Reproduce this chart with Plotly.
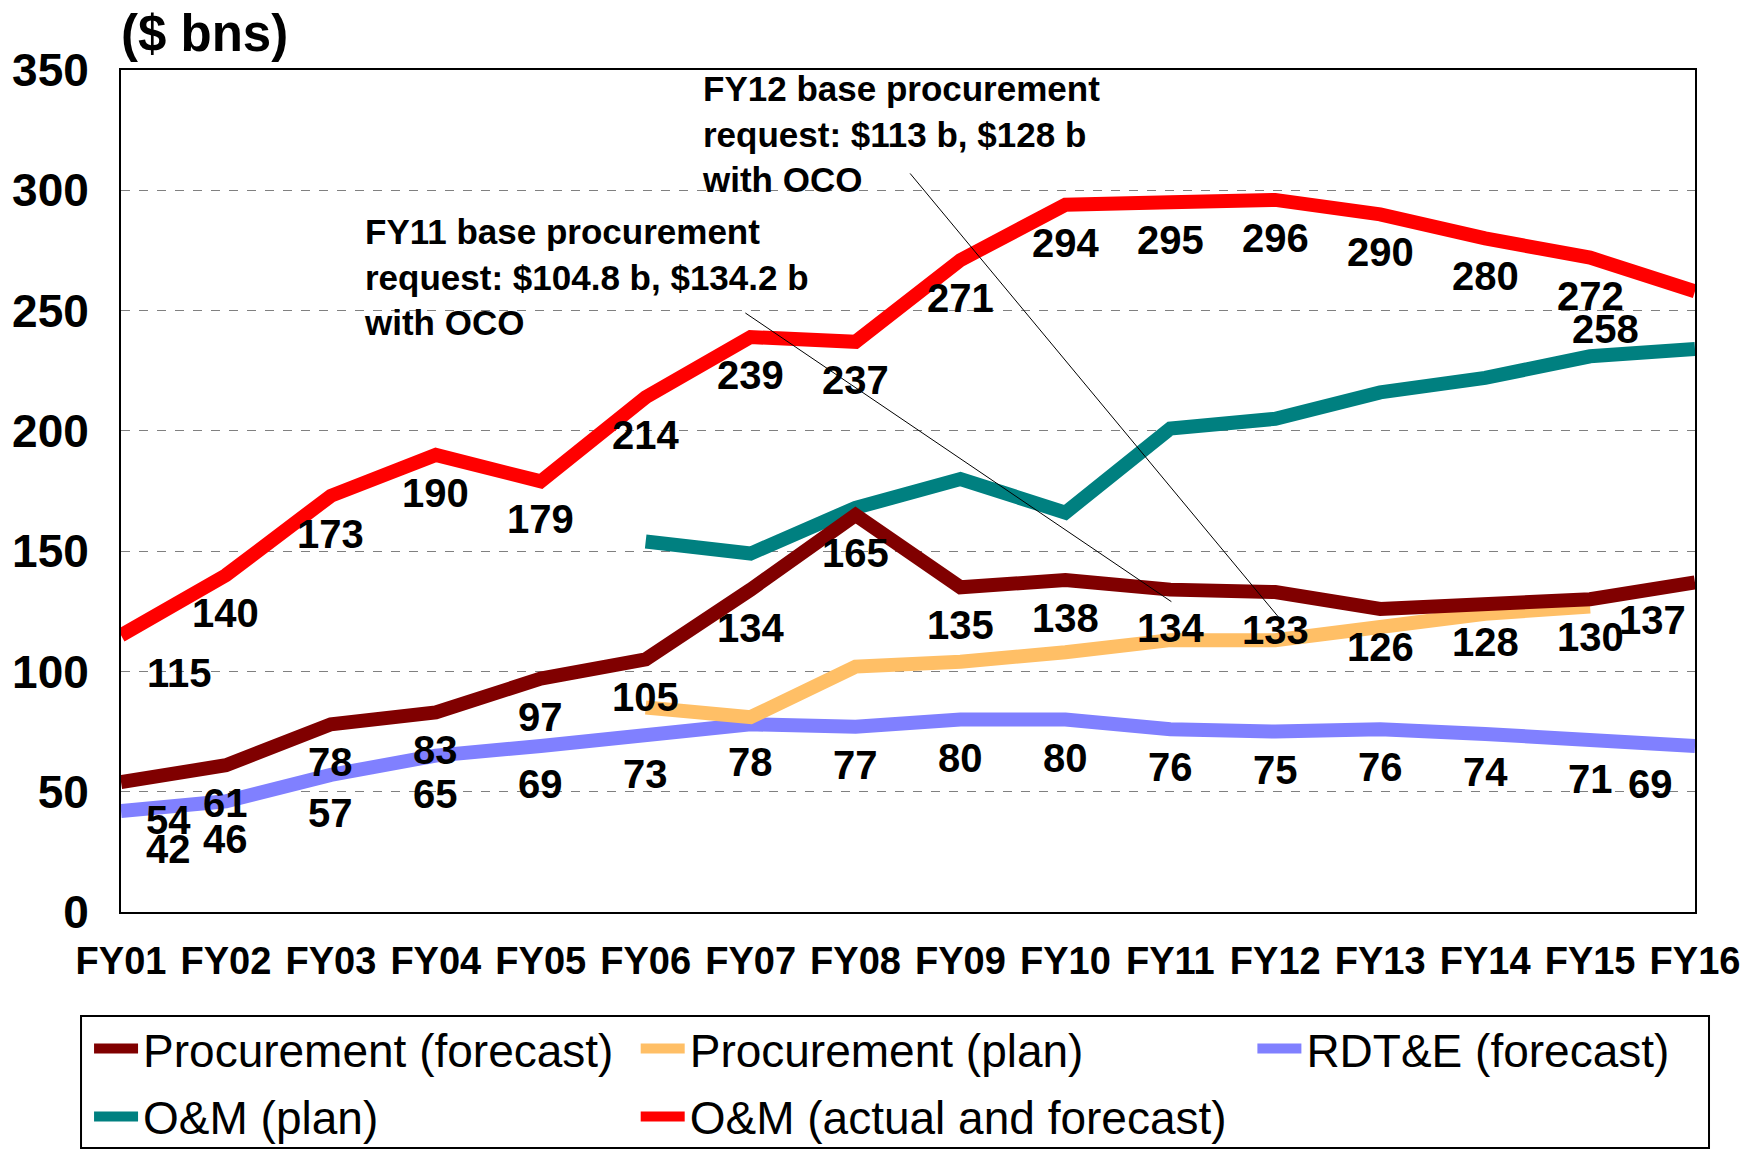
import plotly.graph_objects as go

# ── Data ($ bns) ─────────────────────────────────────────────────────────
years = ["FY01", "FY02", "FY03", "FY04", "FY05", "FY06", "FY07", "FY08",
         "FY09", "FY10", "FY11", "FY12", "FY13", "FY14", "FY15", "FY16"]

proc_forecast = [54, 61, 78, 83, 97, 105, 134, 165, 135, 138, 134, 133, 126, 128, 130, 137]
proc_plan     = [None, None, None, None, None, 85, 81, 102, 104, 108, 113, 113, 119, 124, 127, None]
rdte_forecast = [42, 46, 57, 65, 69, 73, 78, 77, 80, 80, 76, 75, 76, 74, 71, 69]
om_plan       = [None, None, None, None, None, 154, 149, 168, 180, 166, 201, 205, 216, 222, 231, 234]
om_actual     = [115, 140, 173, 190, 179, 214, 239, 237, 271, 294, 295, 296, 290, 280, 272, 258]

fy11_note = "FY11 base procurement<br>request: $104.8 b, $134.2 b<br>with OCO"
fy12_note = "FY12 base procurement<br>request: $113 b, $128 b<br>with OCO"

# ── Style ────────────────────────────────────────────────────────────────
FONT = "Liberation Sans, Arial, sans-serif"
C_PROC_F = "#800000"
C_PROC_P = "#FFBF66"
C_RDTE   = "#8080FF"
C_OM_P   = "#008080"
C_OM_A   = "#FF0000"
LW = 14

x = list(range(len(years)))

fig = go.Figure()

# (values, name, colour, legend, rank) — drawing order = list order
series = [
    (om_plan,       "O&amp;M (plan)",              C_OM_P,   "legend",  2),
    (rdte_forecast, "RDT&amp;E (forecast)",        C_RDTE,   "legend3", 1),
    (proc_plan,     "Procurement (plan)",          C_PROC_P, "legend2", 1),
    (proc_forecast, "Procurement (forecast)",      C_PROC_F, "legend",  1),
    (om_actual,     "O&amp;M (actual and forecast)", C_OM_A, "legend2", 2),
]
for vals, name, col, leg, rank in series:
    fig.add_trace(go.Scatter(
        x=x, y=vals, name=name, mode="lines",
        line=dict(color=col, width=LW),
        legend=leg, legendrank=rank, legendgroup=name, cliponaxis=False,
    ))

# ── Data labels (below each point; edge points nudged inward) ─────────────
label_series = [
    (om_actual,     {0: 58, 15: -90}),
    (proc_forecast, {0: 47, 15: -43}),
    (rdte_forecast, {0: 47, 15: -45}),
]
for vals, nudges in label_series:
    for i, v in enumerate(vals):
        fig.add_annotation(
            x=i, y=v, text=str(v), showarrow=False,
            yshift=-38, xshift=nudges.get(i, 0),
            font=dict(family=FONT, size=40, color="black", weight="bold"),
        )

# ── Call-outs ─────────────────────────────────────────────────────────────
fig.add_annotation(x=2.30, y=264, text=fy11_note, showarrow=False,
                   xanchor="left", yanchor="middle", align="left",
                   font=dict(family=FONT, size=35, color="black", weight="bold"))
fig.add_annotation(x=5.52, y=323.6, text=fy12_note, showarrow=False,
                   xanchor="left", yanchor="middle", align="left",
                   font=dict(family=FONT, size=35, color="black", weight="bold"))
for x0, y0, x1, y1 in [(5.95, 249, 10.01, 129), (7.52, 307, 11.08, 120)]:
    fig.add_shape(type="line", xref="x", yref="y", x0=x0, y0=y0, x1=x1, y1=y1,
                  line=dict(color="black", width=1))

# axis unit label
fig.add_annotation(xref="paper", yref="paper", x=-0.001, y=1.043,
                   text="($ bns)", showarrow=False, xanchor="left", yanchor="middle",
                   font=dict(family=FONT, size=51, color="black", weight="bold"))

# legend frame
fig.add_shape(type="rect", xref="paper", yref="paper",
              x0=-0.0254, x1=1.0089, y0=-0.2803, y1=-0.1235,
              line=dict(color="black", width=2), fillcolor="rgba(0,0,0,0)")

leg_common = dict(orientation="v", yanchor="top", xanchor="left",
                  bgcolor="rgba(0,0,0,0)", borderwidth=0,
                  font=dict(family=FONT, size=46, color="black"),
                  itemwidth=44, tracegroupgap=5)

# page body adds an 8px offset, so margins are trimmed by 8 on left/top
fig.update_layout(
    width=1761, height=1150,
    margin=dict(l=113, r=74, t=62, b=246, autoexpand=False),
    paper_bgcolor="white", plot_bgcolor="white",
    font=dict(family=FONT, color="black"),
    showlegend=True,
    legend=dict(x=-0.0203, y=-0.119, **leg_common),
    legend2=dict(x=0.3270, y=-0.119, **leg_common),
    legend3=dict(x=0.7188, y=-0.119, **leg_common),
    xaxis=dict(
        range=[0, len(years) - 1], tickvals=x, ticktext=years,
        showgrid=False, zeroline=False, automargin=False,
        showline=True, linecolor="black", linewidth=2, mirror=True,
        ticks="", ticklabelstandoff=14,
        tickfont=dict(family=FONT, size=38, color="black", weight="bold"),
    ),
    yaxis=dict(
        range=[0, 350], dtick=50, automargin=False,
        showgrid=True, gridcolor="#808080", griddash="dash", gridwidth=1,
        zeroline=False,
        showline=True, linecolor="black", linewidth=2, mirror=True,
        ticks="", ticklabelstandoff=21,
        tickfont=dict(family=FONT, size=46, color="black", weight="bold"),
    ),
)

fig.write_html("out.html")
